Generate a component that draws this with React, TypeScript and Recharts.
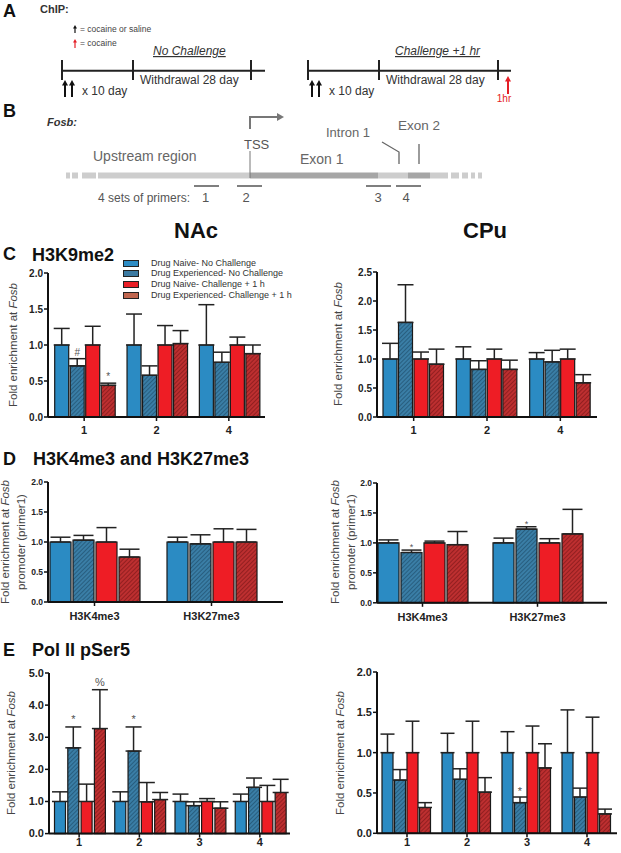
import React from 'react';
import { BarChart, Bar, XAxis, YAxis, ErrorBar, LabelList, Legend } from 'recharts';

const FONT = '"Liberation Sans", Arial, Helvetica, sans-serif';

// legend / series
const seriesNames = [
  'Drug Naive- No Challenge',
  'Drug Experienced- No Challenge',
  'Drug Naive- Challenge + 1 h',
  'Drug Experienced- Challenge + 1 h',
];
const legendColors = ['#2d8cc4', '#3b7aa2', '#ea1f27', '#c0664f'];

// C - H3K9me2 (primer sets 1, 2, 4)
const cGroups = ['1', '2', '4'];
const cNacNaiveNo = [1.0, 1.0, 1.0];
const cNacNaiveNoSem = [0.23, 0.43, 0.56];
const cNacExpNo = [0.71, 0.58, 0.76];
const cNacExpNoSem = [0.1, 0.13, 0.14];
const cNacNaiveCh = [1.0, 1.0, 1.0];
const cNacNaiveChSem = [0.26, 0.27, 0.11];
const cNacExpCh = [0.44, 1.02, 0.88];
const cNacExpChSem = [0.03, 0.18, 0.12];
const cNacExpNoMarks = ['#', '', ''];
const cNacExpChMarks = ['*', '', ''];

const cCpuNaiveNo = [1.0, 1.0, 1.0];
const cCpuNaiveNoSem = [0.27, 0.21, 0.11];
const cCpuExpNo = [1.63, 0.82, 0.95];
const cCpuExpNoSem = [0.65, 0.15, 0.2];
const cCpuNaiveCh = [1.0, 1.0, 1.0];
const cCpuNaiveChSem = [0.12, 0.17, 0.17];
const cCpuExpCh = [0.91, 0.82, 0.59];
const cCpuExpChSem = [0.26, 0.16, 0.14];

// D - H3K4me3 and H3K27me3 (primer 1)
const dGroups = ['H3K4me3', 'H3K27me3'];
const dNacNaiveNo = [1.0, 1.0];
const dNacNaiveNoSem = [0.08, 0.08];
const dNacExpNo = [1.03, 0.97];
const dNacExpNoSem = [0.08, 0.15];
const dNacNaiveCh = [1.0, 1.0];
const dNacNaiveChSem = [0.24, 0.22];
const dNacExpCh = [0.75, 1.0];
const dNacExpChSem = [0.13, 0.21];

const dCpuNaiveNo = [1.0, 1.0];
const dCpuNaiveNoSem = [0.05, 0.08];
const dCpuExpNo = [0.84, 1.23];
const dCpuExpNoSem = [0.04, 0.04];
const dCpuNaiveCh = [1.0, 1.0];
const dCpuNaiveChSem = [0.03, 0.07];
const dCpuExpCh = [0.97, 1.15];
const dCpuExpChSem = [0.22, 0.41];
const dCpuExpNoMarks = ['*', '*'];

// E - Pol II pSer5 (primer sets 1-4)
const eGroups = ['1', '2', '3', '4'];
const eNacNaiveNo = [1.0, 1.0, 1.0, 1.0];
const eNacNaiveNoSem = [0.3, 0.3, 0.23, 0.23];
const eNacExpNo = [2.67, 2.57, 0.87, 1.44];
const eNacExpNoSem = [0.65, 0.75, 0.12, 0.29];
const eNacNaiveCh = [1.0, 0.99, 1.0, 1.0];
const eNacNaiveChSem = [0.54, 0.6, 0.09, 0.5];
const eNacExpCh = [3.27, 1.06, 0.79, 1.28];
const eNacExpChSem = [1.21, 0.22, 0.2, 0.41];
const eNacExpNoMarks = ['*', '*', '', ''];
const eNacExpChMarks = ['%', '', '', ''];

const eCpuNaiveNo = [1.0, 1.0, 1.0, 1.0];
const eCpuNaiveNoSem = [0.23, 0.24, 0.26, 0.53];
const eCpuExpNo = [0.66, 0.67, 0.38, 0.45];
const eCpuExpNoSem = [0.13, 0.13, 0.07, 0.11];
const eCpuNaiveCh = [1.0, 1.0, 1.0, 1.0];
const eCpuNaiveChSem = [0.39, 0.39, 0.33, 0.44];
const eCpuExpCh = [0.32, 0.51, 0.81, 0.24];
const eCpuExpChSem = [0.06, 0.18, 0.3, 0.06];
const eCpuExpNoMarks = ['', '', '*', ''];

const ticks2 = [0, 0.5, 1, 1.5, 2];
const ticks25 = [0, 0.5, 1, 1.5, 2, 2.5];
const ticks5 = [0, 1, 2, 3, 4, 5];

type Series = { vals: number[]; sem: number[]; marks?: string[] };

function buildRows(groups: string[], series: Series[]) {
  return groups.map((g, i) => {
    const row: any = { g };
    series.forEach((s, k) => {
      row[`v${k}`] = s.vals[i];
      row[`e${k}`] = [0, s.sem[i]];
      row[`t${k}`] = s.sem[i];
      row[`m${k}`] = s.marks ? s.marks[i] : '';
    });
    return row;
  });
}

const cNacRows = buildRows(cGroups, [
  { vals: cNacNaiveNo, sem: cNacNaiveNoSem },
  { vals: cNacExpNo, sem: cNacExpNoSem, marks: cNacExpNoMarks },
  { vals: cNacNaiveCh, sem: cNacNaiveChSem },
  { vals: cNacExpCh, sem: cNacExpChSem, marks: cNacExpChMarks },
]);
const cCpuRows = buildRows(cGroups, [
  { vals: cCpuNaiveNo, sem: cCpuNaiveNoSem },
  { vals: cCpuExpNo, sem: cCpuExpNoSem },
  { vals: cCpuNaiveCh, sem: cCpuNaiveChSem },
  { vals: cCpuExpCh, sem: cCpuExpChSem },
]);
const dNacRows = buildRows(dGroups, [
  { vals: dNacNaiveNo, sem: dNacNaiveNoSem },
  { vals: dNacExpNo, sem: dNacExpNoSem },
  { vals: dNacNaiveCh, sem: dNacNaiveChSem },
  { vals: dNacExpCh, sem: dNacExpChSem },
]);
const dCpuRows = buildRows(dGroups, [
  { vals: dCpuNaiveNo, sem: dCpuNaiveNoSem },
  { vals: dCpuExpNo, sem: dCpuExpNoSem, marks: dCpuExpNoMarks },
  { vals: dCpuNaiveCh, sem: dCpuNaiveChSem },
  { vals: dCpuExpCh, sem: dCpuExpChSem },
]);
const eNacRows = buildRows(eGroups, [
  { vals: eNacNaiveNo, sem: eNacNaiveNoSem },
  { vals: eNacExpNo, sem: eNacExpNoSem, marks: eNacExpNoMarks },
  { vals: eNacNaiveCh, sem: eNacNaiveChSem },
  { vals: eNacExpCh, sem: eNacExpChSem, marks: eNacExpChMarks },
]);
const eCpuRows = buildRows(eGroups, [
  { vals: eCpuNaiveNo, sem: eCpuNaiveNoSem },
  { vals: eCpuExpNo, sem: eCpuExpNoSem, marks: eCpuExpNoMarks },
  { vals: eCpuNaiveCh, sem: eCpuNaiveChSem },
  { vals: eCpuExpCh, sem: eCpuExpChSem },
]);

const YW = 44;
const MT = 12;
const MR = 12;
const XH = 32;

type PanelProps = {
  id: string;
  rows: any[];
  left: number;
  top: number;
  right: number;
  bottom: number;
  yMax: number;
  ticks: number[];
  gap: number;
  barGap: number;
  cap: number;
  pad?: { left: number; right: number };
  tickFont: number;
  catFont: number;
  catMargin: number;
  marked: boolean[];
  markOff: number;
  markSize: number;
  legend?: { left: number; top: number };
};

const LegendBox = () => (
  <div style={{ fontFamily: FONT, fontSize: 9, color: '#333', lineHeight: '10.8px' }}>
    {seriesNames.map((n, i) => (
      <div key={n} style={{ display: 'flex', alignItems: 'center', whiteSpace: 'nowrap' }}>
        <span
          style={{
            display: 'inline-block', width: 14, height: 5, background: legendColors[i],
            border: '1px solid #222', marginRight: 12,
          }}
        />
        {n}
      </div>
    ))}
  </div>
);

function Panel(p: PanelProps) {
  const w = p.right - p.left + YW + MR;
  const h = p.bottom - p.top + MT + XH;
  const fills = ['#2b8bc3', `url(#${p.id}-hb)`, '#ee1d25', `url(#${p.id}-hr)`];
  const renderMark = (props: any) => {
    const { x, y, width, value } = props;
    if (!value) return null;
    return (
      <text x={x + width / 2} y={y - p.markOff} textAnchor="middle" fontSize={p.markSize} fill="#555" fontFamily={FONT}>
        {value}
      </text>
    );
  };
  return (
    <div style={{ position: 'absolute', left: p.left - YW, top: p.top - MT }}>
      <BarChart
        width={w}
        height={h}
        data={p.rows}
        margin={{ top: MT, right: MR, left: 0, bottom: 0 }}
        barCategoryGap={p.gap}
        barGap={p.barGap}
      >
        <defs>
          <pattern id={`${p.id}-hb`} patternUnits="userSpaceOnUse" width="3" height="3" patternTransform="rotate(45)">
            <rect width="3" height="3" fill="#3a7ea6" />
            <line x1="0" y1="0" x2="0" y2="3" stroke="#1d4c69" strokeWidth="1.3" />
          </pattern>
          <pattern id={`${p.id}-hr`} patternUnits="userSpaceOnUse" width="3" height="3" patternTransform="rotate(45)">
            <rect width="3" height="3" fill="#bd2f30" />
            <line x1="0" y1="0" x2="0" y2="3" stroke="#7a1516" strokeWidth="1.3" />
          </pattern>
        </defs>
        <XAxis
          dataKey="g"
          height={XH}
          interval={0}
          padding={p.pad}
          axisLine={{ stroke: '#111', strokeWidth: 2 }}
          tickLine={{ stroke: '#111', strokeWidth: 1.5 }}
          tickSize={4}
          tickMargin={p.catMargin}
          tick={{ fill: '#222', fontSize: p.catFont, fontWeight: 'bold', fontFamily: FONT }}
        />
        <YAxis
          type="number"
          domain={[0, p.yMax]}
          ticks={p.ticks}
          interval={0}
          width={YW}
          tickFormatter={(v: number) => v.toFixed(1)}
          axisLine={{ stroke: '#111', strokeWidth: 2 }}
          tickLine={{ stroke: '#111', strokeWidth: 1.5 }}
          tickSize={4}
          tickMargin={1}
          tick={{ fill: '#222', fontSize: p.tickFont, fontWeight: 'bold', fontFamily: FONT }}
        />
        {p.legend && (
          <Legend
            layout="vertical"
            align="center"
            verticalAlign="middle"
            wrapperStyle={{ left: p.legend.left, top: p.legend.top, width: 'auto', height: 'auto' }}
            content={() => <LegendBox />}
          />
        )}
        {[0, 1, 2, 3].map((k) => (
          <Bar
            key={`b${k}`}
            dataKey={`v${k}`}
            stackId={`s${k}`}
            fill={fills[k]}
            stroke="#1a1a1a"
            strokeWidth={1.2}
            isAnimationActive={false}
            legendType="none"
          >
            <ErrorBar dataKey={`e${k}`} width={p.cap} stroke="#222" strokeWidth={1.5} direction="y" isAnimationActive={false} />
          </Bar>
        ))}
        {[0, 1, 2, 3]
          .filter((k) => p.marked[k])
          .map((k) => (
            <Bar
              key={`m${k}`}
              dataKey={`t${k}`}
              stackId={`s${k}`}
              fill="transparent"
              stroke="none"
              isAnimationActive={false}
              legendType="none"
            >
              <LabelList dataKey={`m${k}`} position="top" content={renderMark} />
            </Bar>
          ))}
      </BarChart>
    </div>
  );
}

const YLabel = ({ cx, cy, lines }: { cx: number; cy: number; lines: React.ReactNode[] }) => (
  <div
    style={{
      position: 'absolute', left: cx, top: cy, transform: 'translate(-50%, -50%) rotate(-90deg)',
      fontFamily: FONT, fontSize: 11.5, color: '#444', whiteSpace: 'nowrap', textAlign: 'center', lineHeight: '16px',
    }}
  >
    {lines.map((l, i) => (
      <div key={i}>{l}</div>
    ))}
  </div>
);

const fosbLine = (
  <span>
    Fold enrichment at <i>Fosb</i>
  </span>
);

const Arrow = ({ x, y1, y2, color, head, sw }: { x: number; y1: number; y2: number; color: string; head: number; sw: number }) => (
  <g>
    <line x1={x} y1={y1} x2={x} y2={y2 + head * 1.4} stroke={color} strokeWidth={sw} />
    <polygon points={`${x - head},${y2 + head * 1.8} ${x},${y2} ${x + head},${y2 + head * 1.8}`} fill={color} />
  </g>
);

const Timeline = ({ x0, x1, x2, end }: { x0: number; x1: number; x2: number; end: number }) => (
  <g stroke="#222" strokeWidth={2}>
    <line x1={x0} y1={70.7} x2={end} y2={70.7} />
    <line x1={x0} y1={60} x2={x0} y2={80} />
    <line x1={x1} y1={60} x2={x1} y2={80} />
    <line x1={x2} y1={60} x2={x2} y2={80} />
  </g>
);

function Diagram() {
  const light = '#cdcdcd';
  const dark = '#a6a6a6';
  return (
    <svg width={621} height={853} style={{ position: 'absolute', left: 0, top: 0 }} fontFamily={FONT}>
      {/* A */}
      <text x={3} y={17} fontSize={18} fontWeight="bold" fill="#111">A</text>
      <text x={40} y={13} fontSize={11} fontWeight="bold" fill="#333">ChIP:</text>
      <Arrow x={75} y1={33} y2={25} color="#111" head={2} sw={1.2} />
      <text x={80} y={32} fontSize={8.5} fill="#444">= cocaine or saline</text>
      <Arrow x={75} y1={48} y2={39} color="#e41e26" head={2} sw={1.2} />
      <text x={80} y={46} fontSize={8.5} fill="#444">= cocaine</text>
      <text x={153} y={55} fontSize={12} fontStyle="italic" textDecoration="underline" fill="#333">No Challenge</text>
      <text x={395} y={55} fontSize={12} fontStyle="italic" textDecoration="underline" fill="#333">Challenge +1 hr</text>
      <Timeline x0={62} x1={133} x2={251} end={265} />
      <Timeline x0={308} x1={379} x2={498} end={511} />
      <text x={140} y={84} fontSize={12} fill="#333">Withdrawal 28 day</text>
      <text x={386} y={84} fontSize={12} fill="#333">Withdrawal 28 day</text>
      <Arrow x={65} y1={97} y2={80} color="#111" head={3} sw={2} />
      <Arrow x={72} y1={97} y2={80} color="#111" head={3} sw={2} />
      <text x={82} y={95} fontSize={12} fill="#333">x 10 day</text>
      <Arrow x={312} y1={97} y2={80} color="#111" head={3} sw={2} />
      <Arrow x={319} y1={97} y2={80} color="#111" head={3} sw={2} />
      <text x={329} y={95} fontSize={12} fill="#333">x 10 day</text>
      <Arrow x={508} y1={94} y2={76} color="#e41e26" head={3} sw={2} />
      <text x={504} y={102} fontSize={10} fill="#e41e26" textAnchor="middle">1hr</text>

      {/* B */}
      <text x={3} y={117} fontSize={18} fontWeight="bold" fill="#111">B</text>
      <text x={47} y={126} fontSize={11} fontWeight="bold" fontStyle="italic" fill="#333">Fosb:</text>
      <polyline points="250,129 250,117 278,117" fill="none" stroke="#777" strokeWidth={2} />
      <polygon points="277,113 284,117 277,121" fill="#777" />
      <text x={244} y={149} fontSize={13} fill="#555">TSS</text>
      <text x={93} y={161} fontSize={14} fill="#666">Upstream region</text>
      <text x={300} y={164} fontSize={14} fill="#666">Exon 1</text>
      <text x={326} y={137} fontSize={13} fill="#666">Intron 1</text>
      <text x={398} y={130} fontSize={13.5} fill="#666">Exon 2</text>
      <polyline points="382,142 399,152 399,164" fill="none" stroke="#666" strokeWidth={1.3} />
      <line x1={419} y1={144} x2={419} y2={164} stroke="#666" strokeWidth={1.3} />
      <g>
        <rect x={66} y={172.5} width={4} height={6} fill={light} />
        <rect x={72} y={172.5} width={6} height={6} fill={light} />
        <rect x={82} y={172.5} width={14} height={6} fill={light} />
        <rect x={98} y={172.5} width={152} height={6} fill={light} />
        <rect x={250} y={172.5} width={128} height={6} fill={dark} />
        <rect x={378} y={172.5} width={30} height={6} fill={light} />
        <rect x={408} y={172.5} width={22} height={6} fill={dark} />
        <rect x={430} y={172.5} width={18} height={6} fill={light} />
        <rect x={451} y={172.5} width={8} height={6} fill={light} />
        <rect x={462} y={172.5} width={6} height={6} fill={light} />
        <rect x={471} y={172.5} width={4} height={6} fill={light} />
        <rect x={478} y={172.5} width={4} height={6} fill={light} />
      </g>
      <line x1={250} y1={151} x2={250} y2={178} stroke="#777" strokeWidth={1} />
      <g stroke="#555" strokeWidth={1.5}>
        <line x1={194} y1={186} x2={219} y2={186} />
        <line x1={237} y1={186} x2={262} y2={186} />
        <line x1={366} y1={186} x2={391} y2={186} />
        <line x1={396} y1={186} x2={421} y2={186} />
      </g>
      <text x={98} y={202} fontSize={12} fill="#555">4 sets of primers:</text>
      <g fontSize={13} fill="#555" textAnchor="middle">
        <text x={205.5} y={202}>1</text>
        <text x={246} y={202}>2</text>
        <text x={378} y={202}>3</text>
        <text x={406} y={202}>4</text>
      </g>

      {/* region titles */}
      <text x={174} y={238} fontSize={22} fontWeight="bold" fill="#111">NAc</text>
      <text x={463} y={238} fontSize={22} fontWeight="bold" fill="#111">CPu</text>
      <text x={3} y={260} fontSize={18} fontWeight="bold" fill="#111">C</text>
      <text x={32} y={261} fontSize={18} fontWeight="bold" fill="#111">H3K9me2</text>
      <text x={3} y={465} fontSize={18} fontWeight="bold" fill="#111">D</text>
      <text x={33} y={465} fontSize={18} fontWeight="bold" fill="#111">H3K4me3 and H3K27me3</text>
      <text x={3} y={656} fontSize={18} fontWeight="bold" fill="#111">E</text>
      <text x={32} y={656} fontSize={18} fontWeight="bold" fill="#111">Pol II pSer5</text>
    </svg>
  );
}

export default function App() {
  return (
    <div style={{ position: 'absolute', left: 0, top: 0, width: 621, height: 853, overflow: 'hidden', background: '#fff', fontFamily: FONT }}>
      <Diagram />
      <Panel
        id="cn" rows={cNacRows} left={48} top={272.7} right={265} bottom={416.7} yMax={2} ticks={ticks2}
        gap={6.7} barGap={1.5} cap={8} tickFont={10} catFont={11} catMargin={5}
        marked={[false, true, false, true]} markOff={3} markSize={10}
        legend={{ left: 119, top: -3 }}
      />
      <Panel
        id="cc" rows={cCpuRows} left={377} top={271.7} right={597} bottom={416.7} yMax={2.5} ticks={ticks25}
        gap={6} barGap={1.5} cap={8} tickFont={10} catFont={11} catMargin={5}
        marked={[false, false, false, false]} markOff={3} markSize={10}
      />
      <Panel
        id="dn" rows={dNacRows} left={48} top={482.3} right={283} bottom={602.3} yMax={2} ticks={ticks2}
        gap={14} barGap={2} cap={10} tickFont={8.5} catFont={11} catMargin={6} pad={{ left: -12, right: 13 }}
        marked={[false, false, false, false]} markOff={3} markSize={9}
      />
      <Panel
        id="dc" rows={dCpuRows} left={377} top={482.5} right={607} bottom={602.3} yMax={2} ticks={ticks2}
        gap={13} barGap={2} cap={10} tickFont={8.5} catFont={11} catMargin={6} pad={{ left: -12, right: 12 }}
        marked={[false, true, false, false]} markOff={0} markSize={9}
      />
      <Panel
        id="en" rows={eNacRows} left={49} top={672.7} right={290} bottom={833.3} yMax={5} ticks={ticks5}
        gap={5.5} barGap={2.3} cap={8} tickFont={11} catFont={11} catMargin={1}
        marked={[false, true, false, true]} markOff={4} markSize={11}
      />
      <Panel
        id="ec" rows={eCpuRows} left={377} top={672} right={617} bottom={833.3} yMax={2} ticks={ticks2}
        gap={5} barGap={1.5} cap={7} tickFont={11} catFont={11} catMargin={1}
        marked={[false, true, false, false]} markOff={2} markSize={11}
      />
      <YLabel cx={13} cy={345} lines={[fosbLine]} />
      <YLabel cx={338} cy={344} lines={[fosbLine]} />
      <YLabel cx={13} cy={542} lines={[fosbLine, 'promoter (primer1)']} />
      <YLabel cx={343} cy={542} lines={[fosbLine, 'promoter (primer1)']} />
      <YLabel cx={11} cy={753} lines={[fosbLine]} />
      <YLabel cx={340} cy={753} lines={[fosbLine]} />
    </div>
  );
}
